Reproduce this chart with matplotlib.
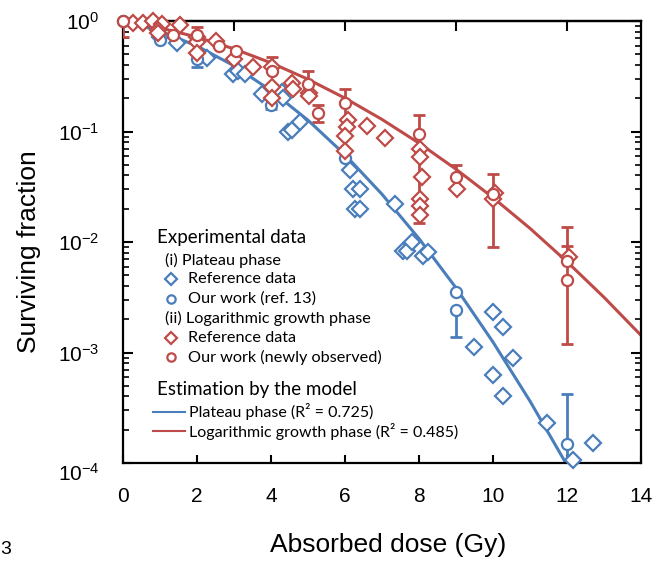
import matplotlib
matplotlib.use("Agg")
import matplotlib.pyplot as plt

plt.rcParams["font.family"] = ["Liberation Sans", "DejaVu Sans"]
plt.rcParams["mathtext.fontset"] = "custom"
plt.rcParams["mathtext.rm"] = "Liberation Sans"

BLUE = "#4a7ebb"
RED = "#be4b48"

# (i) plateau phase, reference data
plat_ref_dose = [1.0, 1.46, 2.27, 2.97, 3.1, 3.3, 3.76, 4.3, 4.32, 4.46, 4.57, 4.78,
                 6.14, 6.22, 6.4, 6.27, 6.4, 7.35, 7.57, 7.68, 7.81, 8.1, 8.24,
                 9.49, 10.0, 10.27, 10.54, 10.0, 10.27, 11.46, 12.16, 12.7]
plat_ref_sf = [0.72, 0.63, 0.46, 0.33, 0.35, 0.33, 0.22, 0.23, 0.20, 0.100, 0.104, 0.123,
               0.045, 0.030, 0.030, 0.020, 0.020, 0.022, 0.0083, 0.0083, 0.010, 0.0075, 0.0081,
               0.00111, 0.00234, 0.0017, 0.00090, 0.00063, 0.00040, 0.00023, 0.000107, 0.000151]

# (i) plateau phase, our work (ref. 13)
plat_our_dose = [0.0, 1.0, 2.0, 4.0, 6.0, 9.0, 9.0, 12.0]
plat_our_sf = [1.0, 0.67, 0.45, 0.175, 0.058, 0.0035, 0.0024, 0.000148]
plat_our_lo = [0.0, 0.0, 0.065, 0.015, 0.0, 0.0, 0.00103, 0.0001]
plat_our_hi = [0.0, 0.0, 0.0, 0.0, 0.0, 0.0, 0.0, 0.00027]

# (ii) logarithmic growth phase, reference data
log_ref_dose = [0.27, 0.54, 0.81, 1.05, 0.95, 0.95, 1.54, 2.0, 2.0, 2.0, 2.5, 3.0, 3.51,
                4.03, 4.03, 4.03, 4.57, 4.6, 5.03, 5.03, 6.08, 6.05, 6.0, 6.0, 6.6, 7.08,
                8.03, 8.03, 8.08, 8.03, 8.03, 8.03, 9.03, 10.05, 10.0, 12.05]
log_ref_sf = [0.96, 0.96, 1.0, 0.94, 0.83, 0.78, 0.92, 0.72, 0.65, 0.515, 0.66, 0.45, 0.385,
              0.385, 0.254, 0.20, 0.275, 0.24, 0.225, 0.21, 0.128, 0.109, 0.092, 0.066, 0.111, 0.088,
              0.069, 0.059, 0.039, 0.0245, 0.021, 0.0175, 0.030, 0.028, 0.0245, 0.0073]

# (ii) logarithmic growth phase, our work (newly observed)
log_our_dose = [0.0, 1.35, 2.0, 2.6, 3.05, 4.03, 5.0, 5.27, 6.0, 8.0, 9.0, 10.0, 12.0, 12.0]
log_our_sf = [1.0, 0.75, 0.75, 0.60, 0.53, 0.35, 0.27, 0.148, 0.18, 0.094, 0.039, 0.027, 0.0067, 0.0045]
log_our_lo = [0.28, 0.0, 0.0, 0.0, 0.0, 0.0, 0.0, 0.025, 0.115, 0.079, 0.0, 0.018, 0.0, 0.0033]
log_our_hi = [0.28, 0.0, 0.13, 0.0, 0.0, 0.12, 0.08, 0.027, 0.06, 0.048, 0.011, 0.014, 0.0069, 0.0047]

# model curves
fit_dose = [0, 1, 2, 3, 4, 5, 6, 7, 8, 9, 10, 11, 12]
plat_fit = [1.0, 0.811, 0.594, 0.393, 0.2346, 0.1265, 0.0616, 0.02705, 0.01074,
            0.003845, 0.001243, 0.000363, 0.0000957]
fit_dose2 = [0, 1, 2, 3, 4, 5, 6, 7, 8, 9, 10, 11, 12, 13, 14]
log_fit = [1.0, 0.867, 0.715, 0.560, 0.418, 0.297, 0.2004, 0.1286, 0.0785, 0.0456,
           0.0252, 0.01329, 0.00663, 0.00316, 0.00143]

W, H = 656, 561
fig = plt.figure(figsize=(W / 100, H / 100), dpi=100)
ax = fig.add_axes([123 / W, 1 - 463 / H, (641 - 123) / W, (463 - 21) / H])
ax.set_yscale("log")

ax.plot(fit_dose, plat_fit, color=BLUE, lw=2.2, zorder=2)
ax.plot(fit_dose2, log_fit, color=RED, lw=2.2, zorder=2)

ax.errorbar(plat_our_dose, plat_our_sf, yerr=[plat_our_lo, plat_our_hi], fmt="none",
            ecolor=BLUE, elinewidth=2, capsize=4, capthick=2, zorder=3)
ax.plot(plat_ref_dose, plat_ref_sf, "D", ms=7.8, mfc="white", mec=BLUE, mew=1.6,
        clip_on=False, zorder=4)
ax.plot(plat_our_dose, plat_our_sf, "o", ms=8, mfc="white", mec=BLUE, mew=1.6,
        clip_on=False, zorder=4)

ax.errorbar(log_our_dose, log_our_sf, yerr=[log_our_lo, log_our_hi], fmt="none",
            ecolor=RED, elinewidth=2, capsize=4, capthick=2, zorder=5)
ax.plot(log_ref_dose, log_ref_sf, "D", ms=7.8, mfc="white", mec=RED, mew=1.6,
        clip_on=False, zorder=6)
ax.plot(log_our_dose, log_our_sf, "o", ms=8, mfc="white", mec=RED, mew=1.6,
        clip_on=False, zorder=6)

ax.set_xlim(0, 14)
ax.set_ylim(1e-4, 1)
ax.set_xticks(range(0, 15, 2))
ax.set_yticks([1e-4, 1e-3, 1e-2, 1e-1, 1])
# bottom label sits lower in the original, drawn separately below
ax.set_yticklabels(["", r"$\mathregular{10^{-3}}$",
                    r"$\mathregular{10^{-2}}$", r"$\mathregular{10^{-1}}$",
                    r"$\mathregular{10^{0}}$"])
for s in ax.spines.values():
    s.set_linewidth(1.6)
ax.tick_params(axis="x", direction="in", top=False, length=6, width=1.5,
               labelsize=15, pad=17)
ax.tick_params(axis="y", which="major", direction="in", left=True, right=True,
               length=7, width=1.5, labelsize=15, pad=17)
ax.tick_params(axis="y", which="minor", direction="in", left=True, right=True,
               length=4.5, width=1.2, labelleft=False)

top = ax.secondary_xaxis("top")
top.set_xticks([3, 6, 9, 12])
top.set_xticklabels([])
top.tick_params(direction="in", length=7, width=1.5)
top.spines["top"].set_linewidth(1.6)


def fx(px):
    return px / W


def fy(py):
    return 1 - py / H


fig.text(fx(100), fy(474), r"$\mathregular{10^{-4}}$", fontsize=15, ha="right", va="center")
fig.text(fx(388), fy(545), "Absorbed dose (Gy)", fontsize=19, ha="center", va="center")
fig.text(fx(29), fy(252), "Surviving fraction", fontsize=19, rotation=90,
         ha="center", va="center")
fig.text(0, fy(550), "3", fontsize=14, ha="left", va="center")

# legend drawn by hand
lf = ["Lato", "DejaVu Sans"]
fig.text(fx(157), fy(237), "Experimental data", fontsize=13.5, family=lf, va="center")
fig.text(fx(165), fy(260), "(i) Plateau phase", fontsize=11.7, family=lf, va="center")
fig.text(fx(188), fy(279), "Reference data", fontsize=11.7, family=lf, va="center")
fig.text(fx(188), fy(299), "Our work (ref. 13)", fontsize=11.7, family=lf, va="center")
fig.text(fx(165), fy(318), "(ii) Logarithmic growth phase", fontsize=11.7, family=lf, va="center")
fig.text(fx(188), fy(338), "Reference data", fontsize=11.7, family=lf, va="center")
fig.text(fx(188), fy(357), "Our work (newly observed)", fontsize=11.7, family=lf, va="center")
fig.text(fx(157), fy(390), "Estimation by the model", fontsize=13.5, family=lf, va="center")
fig.text(fx(189), fy(412), "Plateau phase (R² = 0.725)", fontsize=11.5, family=lf, va="center")
fig.text(fx(189), fy(431), "Logarithmic growth phase (R² = 0.485)", fontsize=11.5, family=lf,
         va="center")

ax.plot([fx(171)], [fy(279)], "D", ms=6.5, mfc="white", mec=BLUE, mew=1.6,
        transform=fig.transFigure, clip_on=False)
ax.plot([fx(171)], [fy(299)], "o", ms=6, mfc="white", mec=BLUE, mew=1.6,
        transform=fig.transFigure, clip_on=False)
ax.plot([fx(171)], [fy(338)], "D", ms=6.5, mfc="white", mec=RED, mew=1.6,
        transform=fig.transFigure, clip_on=False)
ax.plot([fx(171)], [fy(357)], "o", ms=6, mfc="white", mec=RED, mew=1.6,
        transform=fig.transFigure, clip_on=False)
ax.plot([fx(153), fx(185)], [fy(412), fy(412)], color=BLUE, lw=1.5,
        transform=fig.transFigure, clip_on=False)
ax.plot([fx(153), fx(185)], [fy(431), fy(431)], color=RED, lw=1.5,
        transform=fig.transFigure, clip_on=False)

fig.savefig("out.png", dpi=100)
